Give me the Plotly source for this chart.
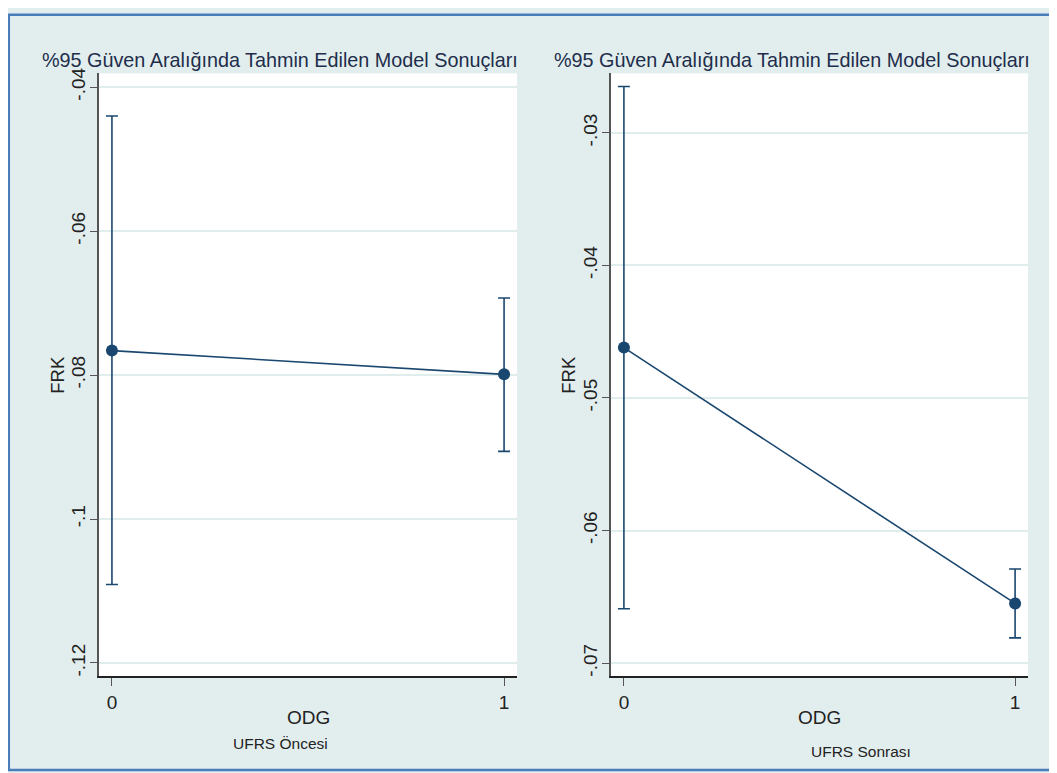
import plotly.graph_objects as go

# ---- data ----
odg = [0, 1]
odg_ticks = ["0", "1"]

pre_mean = [-0.0766, -0.0799]
pre_lo = [-0.1091, -0.0906]
pre_hi = [-0.0440, -0.0693]

post_mean = [-0.0462, -0.0655]
post_lo = [-0.0659, -0.0681]
post_hi = [-0.0265, -0.0629]

pre_yticks = [-0.12, -0.10, -0.08, -0.06, -0.04]
pre_ylabels = ["-.12", "-.1", "-.08", "-.06", "-.04"]
post_yticks = [-0.07, -0.06, -0.05, -0.04, -0.03]
post_ylabels = ["-.07", "-.06", "-.05", "-.04", "-.03"]

title_text = "%95 Güven Aralığında Tahmin Edilen Model Sonuçları"
ytitle = "FRK"
xtitle = "ODG"
sub_pre = "UFRS Öncesi"
sub_post = "UFRS Sonrası"

# ---- style ----
W, H = 1057, 773
OFF = 8  # page body margin
LINE = "#1a476f"
BG = "#e2eeee"
FONT = "Liberation Sans, Arial, sans-serif"
AXC = "#555555"
TXT = "#222222"


def px_x(p):
    return (p - OFF) / W


def px_y(p):
    return 1 - (p - OFF) / H


def trace(mean, lo, hi, xa, ya):
    return go.Scatter(
        x=odg, y=mean, mode="lines+markers", xaxis=xa, yaxis=ya,
        line=dict(color=LINE, width=1.6),
        marker=dict(color=LINE, size=12),
        error_y=dict(type="data", symmetric=False,
                     array=[h - m for h, m in zip(hi, mean)],
                     arrayminus=[m - l for m, l in zip(mean, lo)],
                     color=LINE, thickness=1.6, width=6),
        showlegend=False, hoverinfo="x+y",
    )


fig = go.Figure()
fig.add_trace(trace(pre_mean, pre_lo, pre_hi, "x", "y"))
fig.add_trace(trace(post_mean, post_lo, post_hi, "x2", "y2"))

ydom = [px_y(676), px_y(68)]
xcommon = dict(tickvals=odg, ticktext=odg_ticks, showgrid=False, zeroline=False,
               showline=True, linecolor="#222222", linewidth=1.5, ticks="outside",
               ticklen=8, tickcolor=AXC, tickfont=dict(size=19, color=TXT, family=FONT))
ycommon = dict(showgrid=True, gridcolor="#e0eded", gridwidth=1.5, zeroline=False,
               showline=True, linecolor=AXC, linewidth=1.5, ticks="outside",
               ticklen=7, tickcolor=AXC, tickangle=-90, ticklabelstandoff=-2,
               tickfont=dict(size=19, color=TXT, family=FONT))

fig.update_layout(
    width=W, height=H,
    margin=dict(l=0, r=0, t=0, b=0),
    paper_bgcolor=BG, plot_bgcolor="white",
    font=dict(family=FONT),
    xaxis=dict(domain=[px_x(99), px_x(517)], range=[-0.033, 1.033], anchor="y", **xcommon),
    yaxis=dict(domain=ydom, range=[-0.1218, -0.0381], anchor="x",
               tickvals=pre_yticks, ticktext=pre_ylabels, **ycommon),
    xaxis2=dict(domain=[px_x(611), px_x(1028)], range=[-0.033, 1.033], anchor="y2", **xcommon),
    yaxis2=dict(domain=ydom, range=[-0.07097, -0.02552], anchor="x2",
                tickvals=post_yticks, ticktext=post_ylabels, **ycommon),
)

ann = []


def add(text, cx, cy, size, color=TXT, angle=0):
    ann.append(dict(text=text, x=px_x(cx), y=px_y(cy), xref="paper", yref="paper",
                    xanchor="center", yanchor="middle", textangle=angle,
                    showarrow=False, font=dict(size=size, color=color, family=FONT)))


add(title_text, 280, 54, 19.8, "#1e2d4b")
add(title_text, 792, 54, 19.8, "#1e2d4b")
add(ytitle, 58, 372, 18.5, angle=-90)
add(ytitle, 569, 372, 18.5, angle=-90)
add(xtitle, 308, 718, 19)
add(xtitle, 819, 718, 19)
add(sub_pre, 280, 744, 15.5)
add(sub_post, 861, 752, 15.5)
fig.update_layout(annotations=ann)

fig.add_shape(type="rect", xref="paper", yref="paper",
              x0=0.8 / W, x1=1.01, y0=px_y(771), y1=1 - 0.8 / H,
              line=dict(color="#4a7ebb", width=2.5), fillcolor="rgba(0,0,0,0)", layer="above")

fig.write_html("out.html")
